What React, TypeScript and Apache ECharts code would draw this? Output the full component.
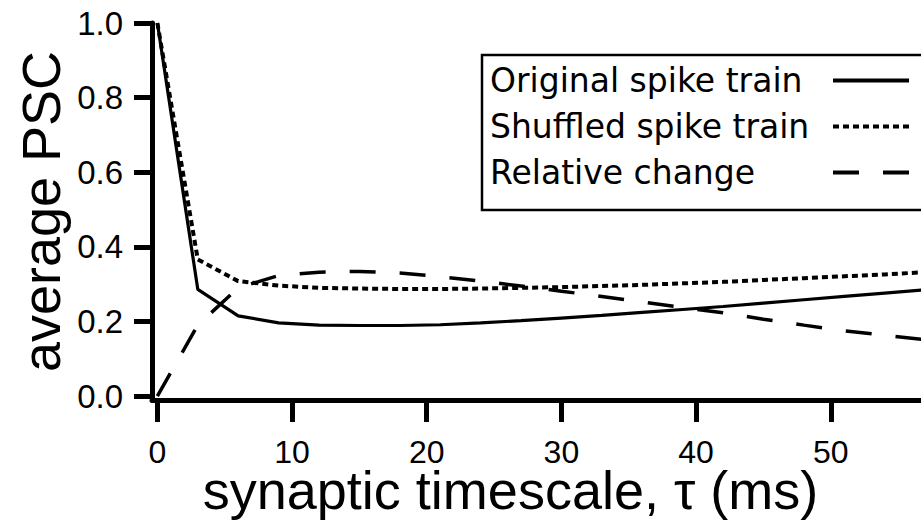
import React, { useEffect, useRef } from "react";
import * as echarts from "echarts";

// synaptic timescale tau (ms)
const tau = [0, 3, 6, 9, 12, 15, 18, 21, 24, 27, 30, 33, 36, 39, 42, 45, 48, 51, 54, 57, 60];
const originalTrain = [1.0, 0.286, 0.215, 0.196, 0.19, 0.189, 0.189, 0.191, 0.196, 0.202, 0.209, 0.216, 0.224, 0.232, 0.24, 0.249, 0.258, 0.267, 0.276, 0.285, 0.294];
const shuffledTrain = [1.0, 0.366, 0.308, 0.296, 0.29, 0.288, 0.287, 0.287, 0.288, 0.29, 0.292, 0.295, 0.298, 0.302, 0.306, 0.311, 0.316, 0.321, 0.326, 0.332, 0.338];
const relativeChange = [0, 0.19, 0.29, 0.323, 0.332, 0.334, 0.33, 0.32, 0.308, 0.295, 0.281, 0.267, 0.252, 0.237, 0.223, 0.206, 0.19, 0.175, 0.163, 0.151, 0.139];

const xTicks = [0, 10, 20, 30, 40, 50];
const yTicks = [0, 0.2, 0.4, 0.6, 0.8, 1.0];
const seriesNames = ["Original spike train", "Shuffled spike train", "Relative change"];
const xTitle = "synaptic timescale, \u03c4 (ms)";
const yTitle = "average PSC";

const pairs = (ys: number[]) => tau.map((t, i) => [t, ys[i]]);

export default function App() {
  const ref = useRef<HTMLDivElement>(null);
  useEffect(() => {
    const chart = echarts.init(ref.current!, null, { renderer: "svg" });
    const axisFont = "'Liberation Sans', Arial, Helvetica, sans-serif";
    const legendFont = "'DejaVu Sans', sans-serif";
    chart.setOption({
      animation: false,
      backgroundColor: "#ffffff",
      grid: {
        left: 152,
        right: 0,
        top: 23,
        height: 377,
        containLabel: false,
        outerBoundsMode: "none",
      },
      legend: {
        show: true,
        orient: "vertical",
        align: "right",
        left: 482,
        top: 55,
        padding: [9, 30, 21, 8],
        borderColor: "#000",
        borderWidth: 2.5,
        backgroundColor: "#fff",
        itemWidth: 76,
        itemHeight: 14,
        itemGap: 13,
        selectedMode: false,
        data: seriesNames,
        itemStyle: { color: "rgba(0,0,0,0)", borderWidth: 0, opacity: 0 },
        lineStyle: { width: 4 },
        formatter: (name: string) => `{t|${name}}`,
        textStyle: {
          fontFamily: legendFont,
          fontSize: 33,
          color: "#000",
          lineHeight: 32,
          rich: {
            t: {
              width: 338,
              align: "left",
              fontFamily: legendFont,
              fontSize: 33,
              lineHeight: 32,
              color: "#000",
            },
          },
        },
      },
      xAxis: {
        type: "value",
        min: -0.4,
        max: 56.7,
        name: xTitle,
        nameLocation: "middle",
        nameGap: 66,
        nameMoveOverlap: false,
        nameTextStyle: {
          fontFamily: axisFont,
          fontSize: 54,
          lineHeight: 48,
          color: "#000",
          padding: [0, 52, 0, 0],
        },
        axisLine: { show: true, onZero: false, lineStyle: { color: "#000", width: 5 } },
        axisTick: {
          show: true,
          customValues: xTicks,
          length: 22,
          lineStyle: { color: "#000", width: 5 },
        },
        axisLabel: {
          customValues: xTicks,
          margin: 40,
          fontFamily: axisFont,
          fontSize: 32,
          lineHeight: 24,
          color: "#000",
        },
        splitLine: { show: false },
      },
      yAxis: {
        type: "value",
        min: -0.0107,
        max: 1.0,
        name: yTitle,
        nameLocation: "middle",
        nameGap: 84,
        nameMoveOverlap: false,
        nameTextStyle: {
          fontFamily: axisFont,
          fontSize: 54,
          color: "#000",
        },
        axisLine: { show: true, onZero: false, lineStyle: { color: "#000", width: 5 } },
        axisTick: {
          show: true,
          customValues: yTicks,
          length: 18,
          lineStyle: { color: "#000", width: 5 },
        },
        axisLabel: {
          customValues: yTicks,
          margin: 29,
          fontFamily: axisFont,
          fontSize: 33,
          color: "#000",
          formatter: (v: number) => v.toFixed(1),
        },
        splitLine: { show: false },
      },
      series: [
        {
          name: seriesNames[0],
          type: "line",
          data: pairs(originalTrain),
          symbol: "none",
          clip: true,
          lineStyle: { color: "#000", width: 3.2, type: "solid" },
          itemStyle: { color: "#000" },
        },
        {
          name: seriesNames[1],
          type: "line",
          data: pairs(shuffledTrain),
          symbol: "none",
          clip: true,
          lineStyle: { color: "#000", width: 4, type: [6, 4] },
          itemStyle: { color: "#000" },
        },
        {
          name: seriesNames[2],
          type: "line",
          data: pairs(relativeChange),
          symbol: "none",
          clip: true,
          lineStyle: { color: "#000", width: 3.5, type: [26, 24] },
          itemStyle: { color: "#000" },
        },
      ],
    });
    return () => chart.dispose();
  }, []);
  return (
    <div
      ref={ref}
      style={{ position: "fixed", left: 0, top: 0, width: 921, height: 528, background: "#fff" }}
    />
  );
}
